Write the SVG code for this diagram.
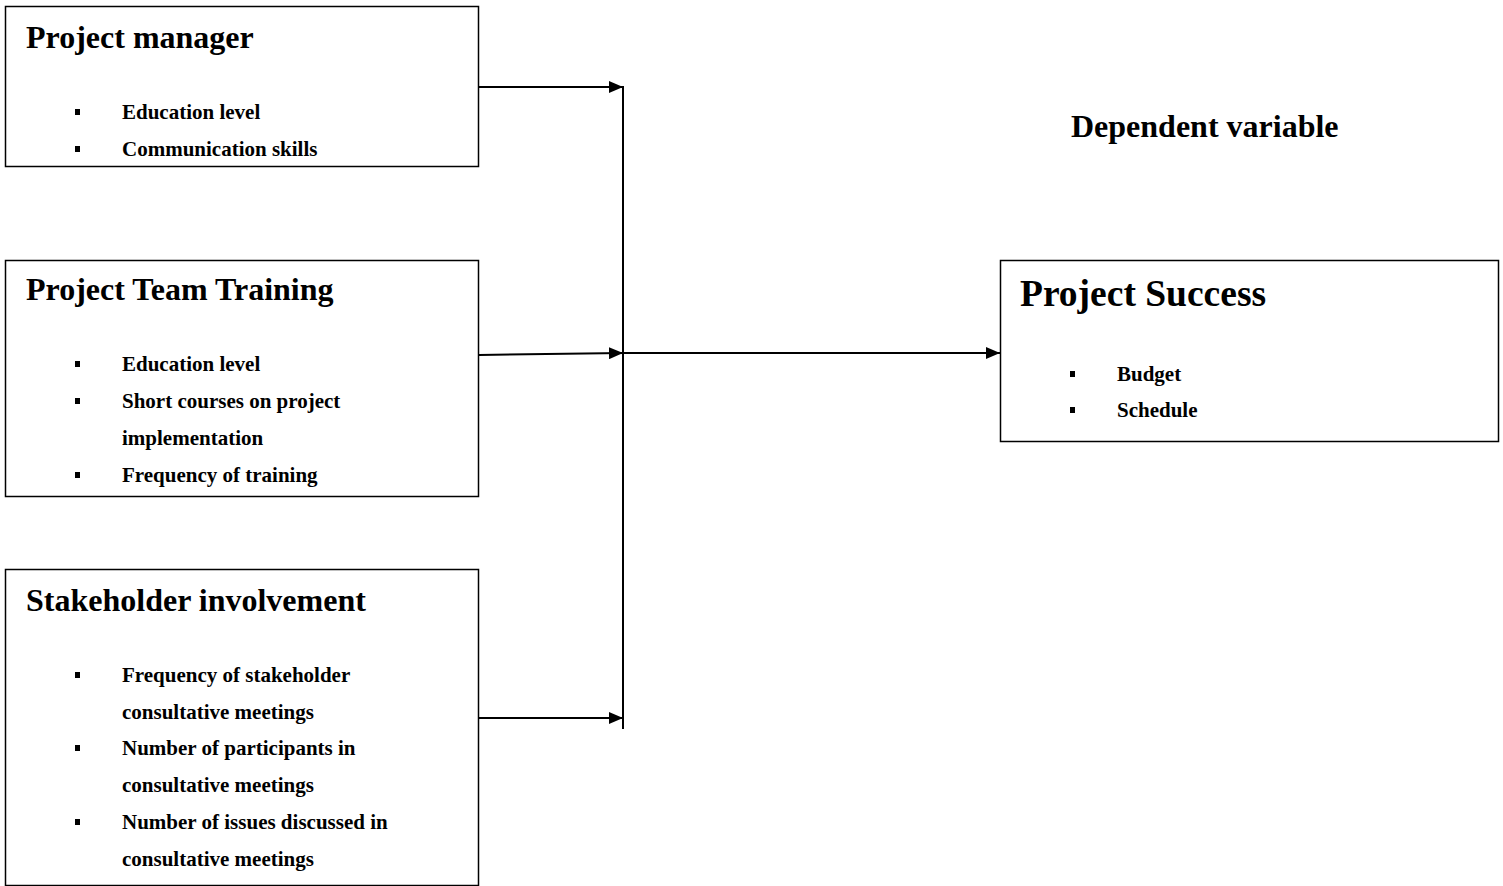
<svg xmlns="http://www.w3.org/2000/svg" width="1503" height="886" viewBox="0 0 1503 886">
<style>
.box{fill:#fff;stroke:#000;stroke-width:1.5}
.t{font-family:"Liberation Serif",serif;font-weight:bold;font-size:32px}
.big{font-family:"Liberation Serif",serif;font-weight:bold;font-size:37.5px}
.i{font-family:"Liberation Serif",serif;font-weight:bold;font-size:21px}
.c{stroke:#000;stroke-width:2;fill:none}
</style>
<defs>
<marker id="ah" viewBox="0 0 14 12" refX="14" refY="6" markerWidth="14" markerHeight="12" markerUnits="userSpaceOnUse" orient="auto">
<path d="M0,0 L14,6 L0,12 Z" fill="#000"/>
</marker>
<rect id="b" width="5" height="6" fill="#000"/>
</defs>
<rect width="1503" height="886" fill="#fff"/>
<g id="pm">
<rect class="box" x="5.5" y="6.5" width="473" height="160"/>
<text class="t" x="26" y="48">Project manager</text>
<use href="#b" x="75" y="109"/><text class="i" x="122" y="119">Education level</text>
<use href="#b" x="75" y="146"/><text class="i" x="122" y="156">Communication skills</text>
</g>
<g id="ptt">
<rect class="box" x="5.5" y="260.5" width="473" height="236"/>
<text class="t" x="26" y="300">Project Team Training</text>
<use href="#b" x="75" y="361"/><text class="i" x="122" y="371">Education level</text>
<use href="#b" x="75" y="398"/><text class="i" x="122" y="408">Short courses on project</text>
<text class="i" x="122" y="445">implementation</text>
<use href="#b" x="75" y="472"/><text class="i" x="122" y="482">Frequency of training</text>
</g>
<g id="si">
<rect class="box" x="5.5" y="569.5" width="473" height="316"/>
<text class="t" x="26" y="611">Stakeholder involvement</text>
<use href="#b" x="75" y="672"/><text class="i" x="122" y="682">Frequency of stakeholder</text>
<text class="i" x="122" y="719">consultative meetings</text>
<use href="#b" x="75" y="745"/><text class="i" x="122" y="755">Number of participants in</text>
<text class="i" x="122" y="792">consultative meetings</text>
<use href="#b" x="75" y="819"/><text class="i" x="122" y="829">Number of issues discussed in</text>
<text class="i" x="122" y="866">consultative meetings</text>
</g>
<g id="dv">
<text class="t" x="1071" y="137">Dependent variable</text>
</g>
<g id="ps">
<rect class="box" x="1000.5" y="260.5" width="498" height="181"/>
<text class="big" x="1020" y="306">Project Success</text>
<use href="#b" x="1070" y="371"/><text class="i" x="1117" y="381">Budget</text>
<use href="#b" x="1070" y="407"/><text class="i" x="1117" y="417">Schedule</text>
</g>
<g id="connectors">
<line class="c" x1="623" y1="86" x2="623" y2="729"/>
<line class="c" x1="479" y1="87" x2="623" y2="87" marker-end="url(#ah)"/>
<line class="c" x1="479" y1="355" x2="623" y2="353" marker-end="url(#ah)"/>
<line class="c" x1="479" y1="718" x2="623" y2="718" marker-end="url(#ah)"/>
<line class="c" x1="623" y1="353" x2="1000" y2="353" marker-end="url(#ah)"/>
</g>
</svg>
